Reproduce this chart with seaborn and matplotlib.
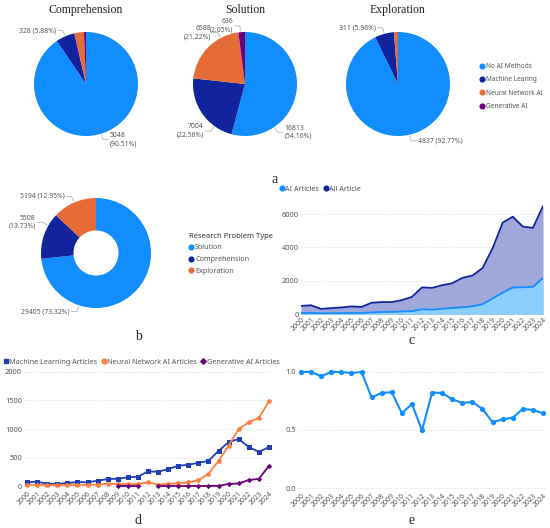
import numpy as np
import pandas as pd
import matplotlib
matplotlib.use("Agg")
import matplotlib.pyplot as plt
import seaborn as sns
from matplotlib.lines import Line2D

years = list(range(2000, 2025))

# (a) AI method share per research problem type
ai_types = ['No AI Methods', 'Machine Learing', 'Neural Network AI', 'Generative AI']
comprehension = [5048, 328, 167, 34]
solution = [16813, 7004, 6588, 636]
exploration = [4837, 311, 60, 6]

# (b) research problem types
problem_types = ['Solution', 'Comprehension', 'Exploration']
problem_counts = [29405, 5508, 5194]

# (c) AI articles vs all articles
ai_articles = [80, 80, 60, 60, 70, 80, 80, 110, 140, 150, 170, 190, 300,
               280, 330, 380, 420, 480, 600, 950, 1300, 1600, 1620, 1640, 2170]
all_articles = [500, 540, 320, 370, 410, 470, 440, 690, 730, 730, 850, 1040, 1610,
                1580, 1740, 1860, 2180, 2320, 2760, 3950, 5485, 5840, 5250, 5170, 6475]

# (d) articles per AI method
ml_articles = [64, 75, 40, 35, 52, 70, 64, 93, 122, 128, 151, 163, 256,
               250, 297, 355, 372, 407, 442, 616, 770, 824, 682, 600, 682]
nn_articles = [20, 20, 15, 15, 20, 20, 20, 25, 40, 35, 30, 35, 64,
               23, 40, 46, 64, 105, 215, 440, 710, 1000, 1118, 1194, 1488]
gen_articles = [np.nan] * 9 + [0, 0, 0, np.nan, 0, 0, 0, 0, 0, 0, 5, 35, 45, 105, 125, 355]

# (e) ratio
ratio = [1.0, 1.0, 0.963, 1.0, 1.0, 0.99, 1.0, 0.78, 0.82, 0.825, 0.644, 0.724, 0.497,
         0.822, 0.819, 0.764, 0.733, 0.741, 0.681, 0.566, 0.592, 0.606, 0.681, 0.672, 0.644]

BLUE, DARK, ORANGE, PURPLE = '#118DFF', '#12239E', '#E66C37', '#6B007B'
pie_colors = [BLUE, DARK, ORANGE, PURPLE]
TXT = '#555555'
SERIF = 'Liberation Serif'
LAB = 4.9     # data label size
LEG = 5.2     # legend size

sns.set_style('white')
plt.rcParams['font.family'] = ['Noto Sans', 'DejaVu Sans']

W, H = 550, 528
fig = plt.figure(figsize=(5.5, 5.28), dpi=100)


def box(left, top, width, height):
    return [left / W, 1 - (top + height) / H, width / W, height / H]


def draw_pie(cx, cy, r, values, colors, spec, width=None, title=None):
    ax = fig.add_axes(box(cx - 1.5 * r, cy - 1.5 * r, 3 * r, 3 * r))
    wp = dict(linewidth=0)
    if width:
        wp['width'] = width
    wedges, _ = ax.pie(values, colors=colors, startangle=90, counterclock=False,
                       radius=1, wedgeprops=wp)
    ax.set_xlim(-1.5, 1.5)
    ax.set_ylim(-1.5, 1.5)
    ax.set_aspect('equal')
    ax.axis('off')
    total = sum(values)
    for i, (ang, two) in spec.items():
        w = wedges[i]
        if ang is None:
            ang = (w.theta1 + w.theta2) / 2
        a = np.deg2rad(ang)
        c, s = np.cos(a), np.sin(a)
        side = 1 if c >= 0 else -1
        x2, y2 = 1.12 * c, 1.12 * s
        x3 = x2 + 0.1 * side
        ax.plot([1.02 * c, x2, x3], [1.02 * s, y2, y2], color='#B5B5B5', lw=0.6, clip_on=False)
        sep = '\n' if two else ' '
        ax.text(x3 + 0.03 * side, y2, f"{values[i]}{sep}({values[i] / total * 100:.2f}%)",
                ha='left' if side > 0 else 'right', va='center', fontsize=LAB,
                color=TXT, linespacing=1.25)
    if title:
        ax.text(0, 1.42, title, ha='center', va='center', fontsize=8.5,
                family=SERIF, color='#222222')
    return ax


def dot_handles(colors, markers=None):
    markers = markers or ['o'] * len(colors)
    return [Line2D([], [], marker=m, ls='', color=c, markersize=3.4 if m != 'D' else 2.8)
            for c, m in zip(colors, markers)]


# ---- (a) three pies
draw_pie(86, 84, 52, comprehension, pie_colors, {0: (None, True), 1: (None, False)},
         title='Comprehension')
draw_pie(245, 84, 52, solution, pie_colors,
         {0: (-56, True), 1: (-126, True), 2: (118, True), 3: (95, True)}, title='Solution')
draw_pie(398, 84, 52, exploration, pie_colors, {0: (None, False), 1: (None, False)},
         title='Exploration')

fig.legend(dot_handles(pie_colors), ai_types, loc='upper left',
           bbox_to_anchor=(477 / W, 1 - 60 / H), frameon=False, fontsize=4.7,
           handlelength=0.6, handletextpad=0.35, labelspacing=0.95, borderpad=0,
           labelcolor=TXT)
fig.text(275 / W, 1 - 180 / H, 'a', ha='center', va='center', fontsize=10, family=SERIF)

# ---- (b) donut
draw_pie(96, 253, 55, problem_counts, [BLUE, DARK, ORANGE],
         {0: (-108, False), 1: (150, True), 2: (None, False)}, width=0.59)
lg = fig.legend(dot_handles([BLUE, DARK, ORANGE]), problem_types, loc='upper left',
                bbox_to_anchor=(185 / W, 1 - 229 / H), frameon=False, fontsize=LEG,
                handlelength=0.6, handletextpad=0.3, labelspacing=0.65, borderpad=0,
                title='Research Problem Type',
                title_fontproperties={'size': 5.5, 'weight': 'bold'}, alignment='left',
                labelcolor=TXT)
lg.get_title().set_color('#333333')
fig.text(138 / W, 1 - 337 / H, 'b', ha='center', va='center', fontsize=10, family=SERIF)


def style_axes(ax):
    sns.despine(ax=ax, left=True, bottom=True)
    ax.yaxis.grid(True, linestyle=':', color='#D8D8D8', lw=0.6)
    ax.xaxis.grid(False)
    ax.set_xticks(years)
    ax.set_xticklabels([str(y) for y in years], rotation=45, ha='right',
                       rotation_mode='anchor', fontsize=5, color=TXT)
    ax.tick_params(axis='both', length=0, pad=1.5)
    ax.tick_params(axis='y', labelsize=5.3, labelcolor=TXT)
    ax.set_xlabel('')
    ax.set_ylabel('')


# ---- (c) area chart
dc = pd.DataFrame({'year': years, 'AI Articles': ai_articles, 'All Article': all_articles})
axc = fig.add_axes(box(301, 200, 242, 114.3))
axc.fill_between(dc['year'], dc['All Article'], color='#A0A7DA', lw=0)
axc.fill_between(dc['year'], dc['AI Articles'], color='#8CCFFF', lw=0)
sns.lineplot(data=dc, x='year', y='All Article', color=DARK, lw=1.3, ax=axc)
sns.lineplot(data=dc, x='year', y='AI Articles', color=BLUE, lw=1.3, ax=axc)
axc.set_xlim(2000, 2024)
axc.set_ylim(0, 6840)
axc.set_yticks([0, 2000, 4000, 6000])
style_axes(axc)
fig.legend(dot_handles([BLUE, DARK]), ['AI Articles', 'All Article'], loc='upper left',
           ncol=2, bbox_to_anchor=(276 / W, 1 - 182 / H), frameon=False, fontsize=LEG,
           handlelength=0.6, handletextpad=0.2, columnspacing=0.6, borderpad=0,
           labelcolor=TXT)
fig.text(412 / W, 1 - 340 / H, 'c', ha='center', va='center', fontsize=10, family=SERIF)

# ---- (d) lines per AI method
dd = pd.DataFrame({'year': years, 'ml': ml_articles, 'nn': nn_articles, 'gen': gen_articles})
dd['seg'] = dd['gen'].isna().cumsum()
axd = fig.add_axes(box(24, 370, 248, 118))
sns.lineplot(data=dd, x='year', y='ml', color='#1F3DB5', marker='s', markersize=3.6,
             markeredgewidth=0, lw=1.3, ax=axd)
sns.lineplot(data=dd, x='year', y='nn', color='#FF7F3F', marker='o', markersize=3.4,
             markeredgewidth=0, lw=1.3, ax=axd)
sns.lineplot(data=dd.dropna(), x='year', y='gen', units='seg', estimator=None, color=PURPLE,
             marker='D', markersize=2.8, markeredgewidth=0, lw=1.3, ax=axd)
axd.set_xlim(1999.7, 2024.3)
axd.set_ylim(-35, 2035)
axd.set_yticks([0, 500, 1000, 1500, 2000])
style_axes(axd)
fig.legend(dot_handles(['#1F3DB5', '#FF7F3F', PURPLE], ['s', 'o', 'D']),
           ['Machine Learning Articles', 'Neural Network AI Articles', 'Generative AI Articles'],
           loc='upper left', ncol=3, bbox_to_anchor=(0 / W, 1 - 355 / H), frameon=False,
           fontsize=LEG, handlelength=0.6, handletextpad=0.2, columnspacing=0.55,
           borderpad=0, labelcolor=TXT)
fig.text(138 / W, 1 - 520 / H, 'd', ha='center', va='center', fontsize=10, family=SERIF)

# ---- (e) ratio line
de = pd.DataFrame({'year': years, 'ratio': ratio})
axe = fig.add_axes(box(298, 358, 248, 132))
sns.lineplot(data=de, x='year', y='ratio', color=BLUE, marker='o', markersize=3.8,
             markeredgewidth=0, lw=1.5, ax=axe)
axe.set_xlim(1999.7, 2024.3)
axe.set_ylim(-0.017, 1.12)
axe.set_yticks([0, 0.5, 1.0])
axe.set_yticklabels(['0.0', '0.5', '1.0'])
style_axes(axe)
fig.text(412 / W, 1 - 520 / H, 'e', ha='center', va='center', fontsize=10, family=SERIF)

fig.savefig('out.png', dpi=100, facecolor='white')
